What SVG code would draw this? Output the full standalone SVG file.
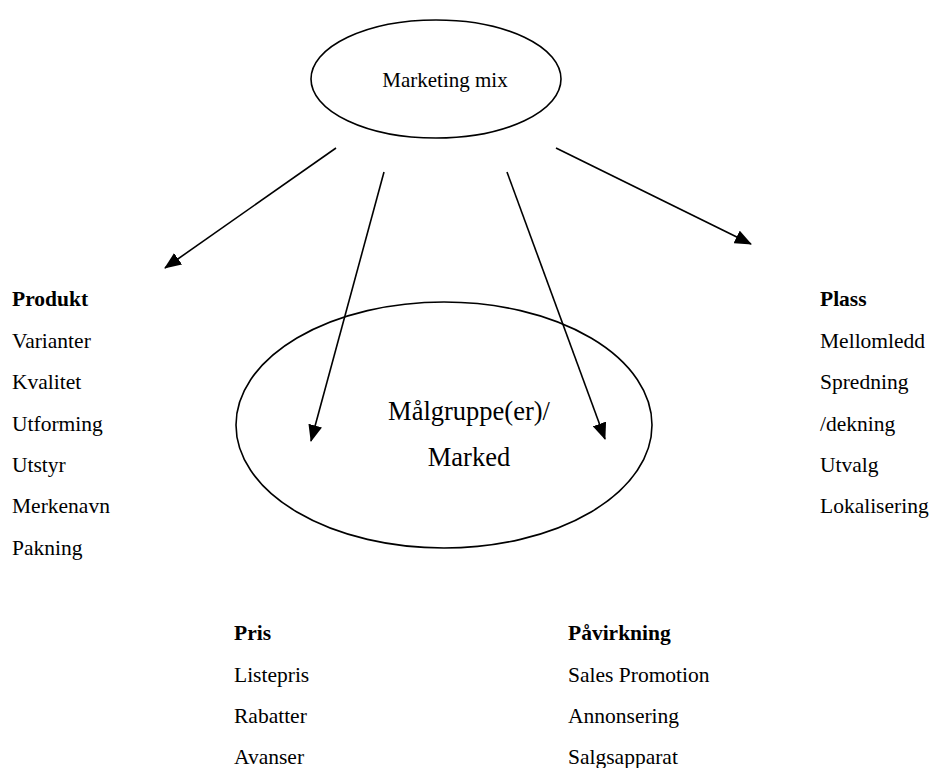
<svg xmlns="http://www.w3.org/2000/svg" width="931" height="768" viewBox="0 0 931 768">
  <style>
    text { font-family: "Liberation Serif", "Times New Roman", serif; fill: #000; }
    .item { font-size: 21.5px; }
    .head { font-size: 21.5px; font-weight: bold; }
    .shape { fill: none; stroke: #000; stroke-width: 1.6; }
    .link { fill: none; stroke: #000; stroke-width: 1.6; marker-end: url(#arrow); }
  </style>
  <defs>
    <marker id="arrow" viewBox="0 0 17 14" refX="16" refY="7" markerWidth="17" markerHeight="14" markerUnits="userSpaceOnUse" orient="auto">
      <path d="M0,0 L17,7 L0,14 z" fill="#000"/>
    </marker>
  </defs>
  <rect width="931" height="768" fill="#fff"/>

  <g id="marketing-mix">
    <ellipse class="shape" cx="436" cy="79" rx="125" ry="59"/>
    <text x="445" y="87" text-anchor="middle" style="font-size:21px">Marketing mix</text>
  </g>

  <g id="malgruppe">
    <ellipse class="shape" cx="444" cy="425" rx="208" ry="123"/>
    <text x="469" y="420" text-anchor="middle" style="font-size:26.5px">Målgruppe(er)/</text>
    <text x="469" y="466" text-anchor="middle" style="font-size:26.5px">Marked</text>
  </g>

  <g id="connectors">
    <line class="link" x1="336" y1="148" x2="165" y2="268"/>
    <line class="link" x1="384" y1="172" x2="311" y2="441"/>
    <line class="link" x1="507" y1="172" x2="605" y2="439"/>
    <line class="link" x1="556" y1="148" x2="751" y2="244"/>
  </g>

  <g id="produkt">
    <text class="head" x="12" y="306">Produkt</text>
    <text class="item" x="12" y="348">Varianter</text>
    <text class="item" x="12" y="389">Kvalitet</text>
    <text class="item" x="12" y="431">Utforming</text>
    <text class="item" x="12" y="472">Utstyr</text>
    <text class="item" x="12" y="513">Merkenavn</text>
    <text class="item" x="12" y="555">Pakning</text>
  </g>

  <g id="plass">
    <text class="head" x="820" y="306">Plass</text>
    <text class="item" x="820" y="348">Mellomledd</text>
    <text class="item" x="820" y="389">Spredning</text>
    <text class="item" x="820" y="431">/dekning</text>
    <text class="item" x="820" y="472">Utvalg</text>
    <text class="item" x="820" y="513">Lokalisering</text>
  </g>

  <g id="pris">
    <text class="head" x="234" y="640">Pris</text>
    <text class="item" x="234" y="682">Listepris</text>
    <text class="item" x="234" y="723">Rabatter</text>
    <text class="item" x="234" y="764">Avanser</text>
  </g>

  <g id="pavirkning">
    <text class="head" x="568" y="640">Påvirkning</text>
    <text class="item" x="568" y="682">Sales Promotion</text>
    <text class="item" x="568" y="723">Annonsering</text>
    <text class="item" x="568" y="764">Salgsapparat</text>
  </g>
</svg>
